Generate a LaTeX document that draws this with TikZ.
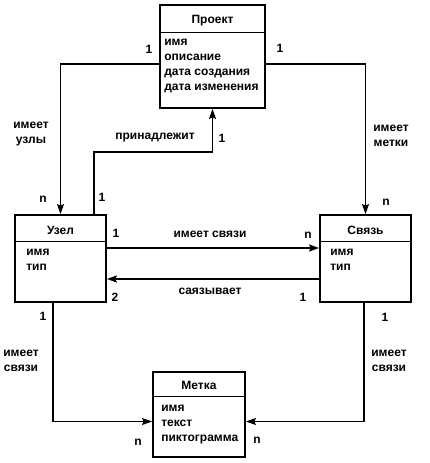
\documentclass[tikz,border=0pt]{standalone}
\usepackage{fontspec}
\setmainfont{Liberation Sans}
\usetikzlibrary{arrows.meta, positioning}

\begin{document}
\begin{tikzpicture}[x=1pt, y=1pt,
      every node/.style={font=\fontsize{12}{15}\selectfont\bfseries, inner sep=0pt},
      ent/.style={rectangle, draw=black, line width=1.8pt},
      ttl/.style={anchor=base},
      attr/.style={anchor=north west, align=left},
      lbl/.style={align=center},
      sep/.style={line width=1.1pt},
      arr/.style={-{Stealth[length=10pt, width=7pt, inset=1.5pt]}, line width=1.3pt},
    ]
      \useasboundingbox (0,0) rectangle (429,463);

      \node[ent, minimum width=105pt, minimum height=103pt] (proj)  at (212.5,406.5) {};
      \node[ent, minimum width=91pt,  minimum height=87pt]  (uzel)  at (60.5,204.5) {};
      \node[ent, minimum width=91pt,  minimum height=87pt]  (svz)   at (365.5,204.5) {};
      \node[ent, minimum width=92pt,  minimum height=85pt]  (metka) at (199,48.5) {};

      \node[ttl] (projT)  at ([yshift=-19pt]proj.north)  {Проект};
      \node[ttl] (uzelT)  at ([yshift=-20pt]uzel.north)  {Узел};
      \node[ttl] (svzT)   at ([yshift=-20pt]svz.north)   {Связь};
      \node[ttl] (metkaT) at ([yshift=-18pt]metka.north) {Метка};

      \draw[sep] ([yshift=-28pt]proj.north west)  -- ([yshift=-28pt]proj.north east);
      \draw[sep] ([yshift=-27pt]uzel.north west)  -- ([yshift=-27pt]uzel.north east);
      \draw[sep] ([yshift=-27pt]svz.north west)   -- ([yshift=-27pt]svz.north east);
      \draw[sep] ([yshift=-25pt]metka.north west) -- ([yshift=-25pt]metka.north east);

      \node[attr] (projA)  at ([xshift=5pt, yshift=-35pt]proj.north west)   {имя\\описание\\дата создания\\дата изменения};
      \node[attr] (uzelA)  at ([xshift=12pt, yshift=-35pt]uzel.north west)  {имя\\тип};
      \node[attr] (svzA)   at ([xshift=11pt, yshift=-35pt]svz.north west)   {имя\\тип};
      \node[attr] (metkaA) at ([xshift=9pt, yshift=-34pt]metka.north west)  {имя\\текст\\пиктограмма};

      \coordinate (bend) at (0,311);
      \coordinate (u1) at ([yshift=10.5pt]uzel.east);
      \coordinate (u2) at ([yshift=-20.5pt]uzel.east);

      \draw[arr] ([yshift=-7.5pt]proj.west) -| (uzel.north);
      \draw[arr] ([yshift=-7.5pt]proj.east) -| (svz.north);
      \draw[arr] ([xshift=33.5pt]uzel.north) |- (bend -| proj.south) -- (proj.south);
      \draw[arr] (u1) -- (u1 -| svz.west);
      \draw[arr] (u2 -| svz.west) -- (u2);
      \draw[arr] ([xshift=-7.5pt]uzel.south) |- ([yshift=-7pt]metka.west);
      \draw[arr] ([xshift=-1.5pt]svz.south) |- ([yshift=-7pt]metka.east);

      \node (m1)  at (149,414) {1};
      \node (m2)  at (280,415) {1};
      \node[lbl] (l1) at (31,329) {имеет\\узлы};
      \node (m3)  at (43,264) {n};
      \node (m4)  at (102,266) {1};
      \node (l2)  at (155,325) {принадлежит};
      \node (m5)  at (222,325) {1};
      \node[lbl] (l3) at (391,327) {имеет\\метки};
      \node (m6)  at (386,261) {n};
      \node (m7)  at (116,230) {1};
      \node (l4)  at (210,229) {имеет связи};
      \node (m8)  at (308,228) {n};
      \node (m9)  at (115,166) {2};
      \node (l5)  at (210,172) {саязывает};
      \node (m10) at (303,166) {1};
      \node (m11) at (43,147) {1};
      \node[lbl] (l6) at (21,102) {имеет\\связи};
      \node (m12) at (138,21) {n};
      \node (m13) at (385,146) {1};
      \node[lbl] (l7) at (389,102) {имеет\\связи};
      \node (m14) at (257,23) {n};
    \end{tikzpicture}
\end{document}
